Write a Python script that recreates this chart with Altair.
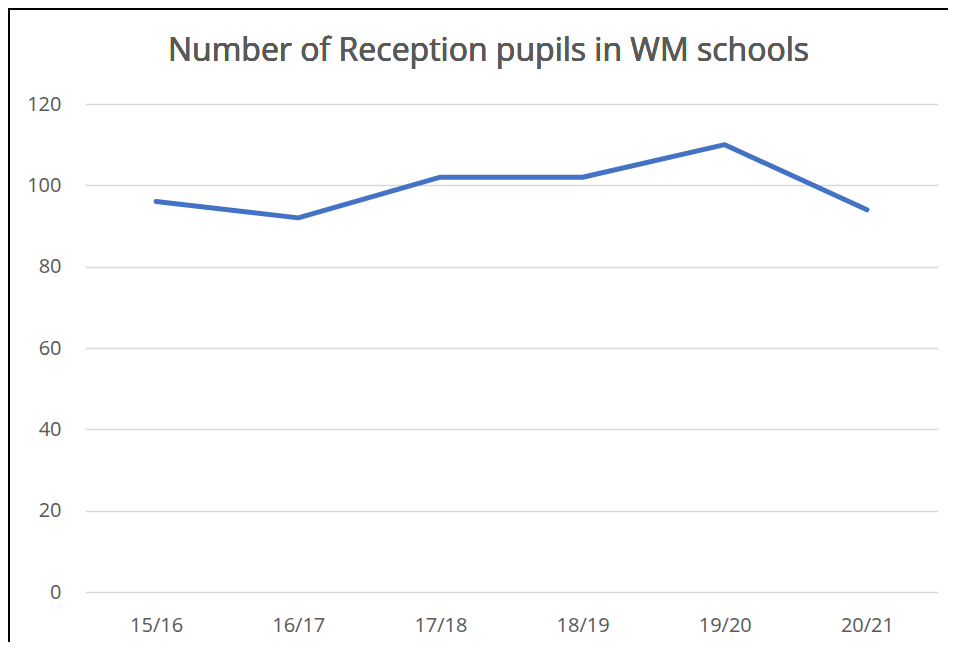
import altair as alt
import pandas as pd

years = ["15/16", "16/17", "17/18", "18/19", "19/20", "20/21"]
pupils = [96, 92, 102, 102, 110, 94]
title_text = "Number of Reception pupils in WM schools"

df = pd.DataFrame({"year": years, "pupils": pupils})

W, H = 853, 488
PAD = {"left": 77, "top": 96, "right": 10, "bottom": 50}

line = alt.Chart(df).mark_line(color="#4472C4", strokeWidth=5, strokeCap="round", strokeJoin="round").encode(
    x=alt.X("year:N", sort=years, title=None,
            scale=alt.Scale(paddingInner=0, paddingOuter=0.5),
            axis=alt.Axis(labelAngle=0, ticks=False, domain=False, grid=False,
                          labelFontSize=20, labelColor="#595959", labelPadding=23,
                          labelFont="Open Sans")),
    y=alt.Y("pupils:Q", title=None,
            scale=alt.Scale(domain=[0, 120], nice=False),
            axis=alt.Axis(values=[0, 20, 40, 60, 80, 100, 120], ticks=False, domain=False,
                          gridColor="#d9d9d9", gridWidth=1.3,
                          labelFontSize=20, labelColor="#595959", labelPadding=24,
                          labelFont="Open Sans")),
)

left_border = alt.Chart(df).mark_rule(color="black", strokeWidth=2).encode(
    x=alt.value(-76), y=alt.value(-96), y2=alt.value(H + 60)
)
top_border = alt.Chart(df).mark_rule(color="black", strokeWidth=2).encode(
    x=alt.value(-77), x2=alt.value(W + 20), y=alt.value(-95)
)
title = alt.Chart(df).mark_text(
    text=title_text, fontSize=32, font="Open Sans", color="#595959",
    align="center", baseline="alphabetic"
).encode(x=alt.value(W / 2 - 23), y=alt.value(-43))

chart = alt.layer(left_border, top_border, title, line).properties(
    width=W, height=H,
    autosize=alt.AutoSizeParams(type="none"),
    padding=PAD,
).configure_view(stroke=None)

chart.save("out.html", embed_options={"renderer": "svg", "actions": False})
